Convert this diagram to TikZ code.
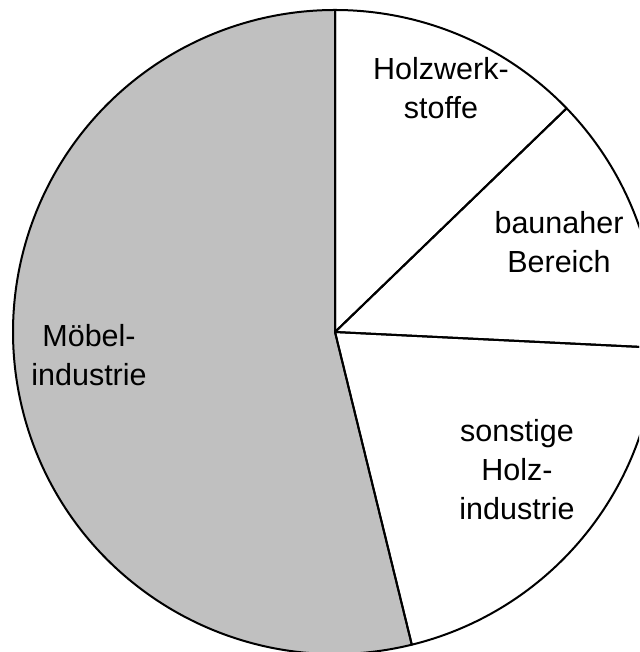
\documentclass[tikz,border=0pt]{standalone}
\usepackage{fontspec}
\setmainfont{Liberation Sans}
\begin{document}
\begin{tikzpicture}[x=1pt,y=1pt,
  slice/.style={draw=black,line width=2pt,line join=round},
  lbl/.style={align=center,anchor=base,inner sep=0pt,font=\fontsize{30.5}{39}\selectfont}]
\useasboundingbox (0,0) rectangle (639,652);
\clip (0,0) rectangle (639,652);
\coordinate (C) at (335,320);
\def\R{322}
\fill[fill={rgb,255:red,192;green,192;blue,192}] (C) -- ++(90:\R) arc[start angle=90,end angle=283.8,radius=\R] -- cycle;
\draw[slice] (C) -- ++(90:\R) arc[start angle=90,end angle=44,radius=\R] -- cycle;
\draw[slice] (C) -- ++(44:\R) arc[start angle=44,end angle=-2.8,radius=\R] -- cycle;
\draw[slice] (C) -- ++(-2.8:\R) arc[start angle=-2.8,end angle=-76.2,radius=\R] -- cycle;
\draw[slice] (C) -- ++(-76.2:\R) arc[start angle=-76.2,end angle=-270,radius=\R] -- cycle;
\node[lbl] (holz) at (441,533) {Holzwerk-\\stoffe};
\node[lbl] (bau) at (559,379) {baunaher\\Bereich};
\node[lbl] (sonst) at (517,132) {sonstige\\Holz-\\industrie};
\node[lbl] (moebel) at (89,266) {Möbel-\\industrie};
\end{tikzpicture}
\end{document}
